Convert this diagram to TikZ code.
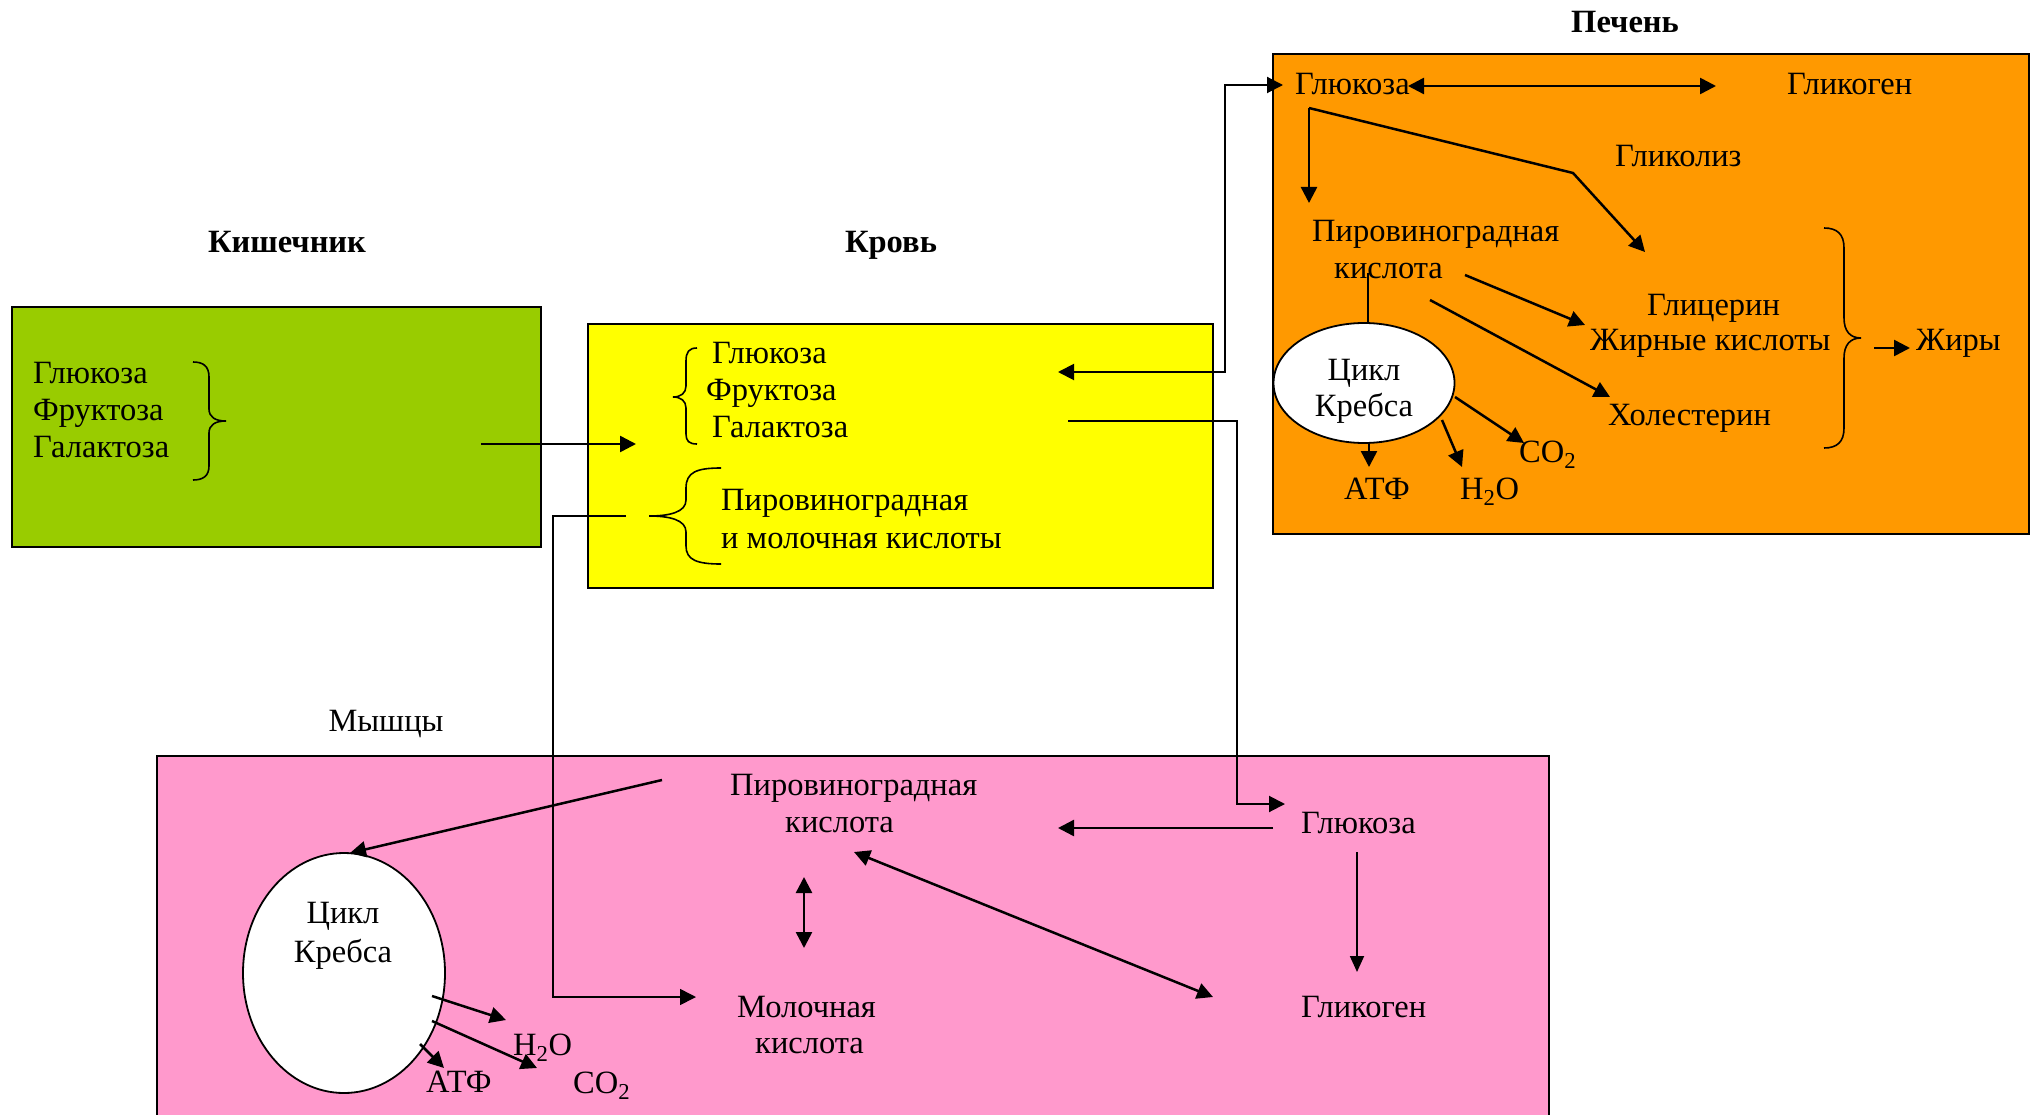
\documentclass[tikz,border=0pt]{standalone}
\usepackage{fontspec}
\setmainfont{Liberation Serif}
\usetikzlibrary{arrows.meta,shapes.geometric}

\definecolor{gutgreen}{HTML}{99CC00}
\definecolor{bloodyellow}{HTML}{FFFF00}
\definecolor{liverorange}{HTML}{FF9900}
\definecolor{musclepink}{HTML}{FF99CC}

\tikzset{
  organ/.style={draw=black, line width=1.8pt},
  lbl/.style={inner sep=0pt, anchor=base west, font=\fontsize{32.5}{37.5}\selectfont},
  lblc/.style={inner sep=0pt, anchor=base, font=\fontsize{32.5}{37.5}\selectfont},
  heading/.style={inner sep=0pt, anchor=base, font=\fontsize{32.5}{37.5}\selectfont\bfseries},
  krebs/.style={draw=black, fill=white, ellipse, line width=1.8pt, inner sep=0pt},
  flow/.style={line width=2.5pt, -{Triangle[length=16pt,width=16pt]}},
  twoway/.style={line width=2.5pt, {Triangle[length=16pt,width=16pt]}-{Triangle[length=16pt,width=16pt]}},
  link/.style={line width=1.6pt},
  linkarrow/.style={line width=1.6pt, -{Triangle[length=16pt,width=16pt]}},
  bracepath/.style={line width=1.6pt},
}

\begin{document}
\begin{tikzpicture}[x=1pt, y=-1pt]
\useasboundingbox (0,0) rectangle (2033,1115);
\begin{scope}
\clip (0,0) rectangle (2033,1115);

% ---------- organ boxes ----------
\filldraw[organ, fill=gutgreen]    (12,307)  rectangle (541,547);
\filldraw[organ, fill=bloodyellow] (588,324) rectangle (1213,588);
\filldraw[organ, fill=liverorange] (1273,54) rectangle (2029,534);
\filldraw[organ, fill=musclepink]  (157,756) rectangle (1549,1130);

% ---------- headings ----------
\node[heading] (hGut)   at (287,253) {Кишечник};
\node[heading] (hBlood) at (891,253) {Кровь};
\node[heading] (hLiver) at (1625,33) {Печень};
\node[lblc]    (hMuscle) at (386,731) {Мышцы};

% ---------- intestine ----------
\node[lbl] (gGlu) at (33,383) {Глюкоза};
\node[lbl] (gFru) at (33,420) {Фруктоза};
\node[lbl] (gGal) at (33,457) {Галактоза};
\draw[bracepath] (193,362) .. controls (203,362) and (209,366) .. (209,377)
  -- (209,409) .. controls (209,417) and (215,421) .. (226,421)
  .. controls (215,421) and (209,425) .. (209,433)
  -- (209,466) .. controls (209,476) and (203,480) .. (193,480);

% ---------- blood ----------
\node[lbl] (bGlu) at (712,363) {Глюкоза};
\node[lbl] (bFru) at (706,400) {Фруктоза};
\node[lbl] (bGal) at (712,437) {Галактоза};
\draw[bracepath] (697,348) .. controls (689,348) and (686,352) .. (686,361)
  -- (686,386) .. controls (686,393) and (681,397) .. (673,397)
  .. controls (681,397) and (686,401) .. (686,408)
  -- (686,434) .. controls (686,441) and (689,444) .. (697,444);
\node[lbl] (bPyr) at (721,510) {Пировиноградная};
\node[lbl] (bLac) at (721,548) {и молочная кислоты};
\draw[bracepath] (721,468) .. controls (697,468) and (686,472) .. (686,488)
  -- (686,500) .. controls (686,512) and (670,516) .. (649,516)
  .. controls (670,516) and (686,520) .. (686,532)
  -- (686,546) .. controls (686,560) and (697,564) .. (721,564);

% ---------- liver ----------
\node[lbl] (lGlu)  at (1295,95)  {Глюкоза};
\node[lbl] (lGlyc) at (1787,95)  {Гликоген};
\node[lbl] (lGlys) at (1615,167) {Гликолиз};
\node[lbl] (lPyr)  at (1312,242) {Пировиноградная};
\node[lbl] (lPyr2) at (1334,278) {кислота};
\node[krebs, minimum width=181pt, minimum height=120pt] (lKrebs) at (1364,383) {};
\node[lblc] (lKrebs1) at (1364,380) {Цикл};
\node[lblc] (lKrebs2) at (1364,416) {Кребса};
\node[lbl] (lGlcr) at (1647,315) {Глицерин};
\node[lbl] (lFat)  at (1590,350) {Жирные кислоты};
\node[lbl] (lChol) at (1608,425) {Холестерин};
\node[lbl] (lFats) at (1916,350) {Жиры};
\node[lbl] (lATP)  at (1344,499) {АТФ};
\node[lbl] (lH2O)  at (1460,499) {H\textsubscript{2}O};
\node[lbl] (lCO2)  at (1519,462) {CO\textsubscript{2}};
\draw[bracepath] (1824,228) .. controls (1837,228) and (1844,234) .. (1844,248)
  -- (1844,318) .. controls (1844,331) and (1850,338) .. (1861,338)
  .. controls (1850,338) and (1844,345) .. (1844,358)
  -- (1844,428) .. controls (1844,442) and (1837,448) .. (1824,448);

% ---------- muscle ----------
\node[lbl] (mPyr)  at (730,795)  {Пировиноградная};
\node[lbl] (mPyr2) at (785,832)  {кислота};
\node[lbl] (mGlu)  at (1301,833) {Глюкоза};
\node[lbl] (mGlyc) at (1301,1017) {Гликоген};
\node[lbl] (mLac)  at (737,1017) {Молочная};
\node[lbl] (mLac2) at (755,1053) {кислота};
\node[krebs, minimum width=202pt, minimum height=240pt] (mKrebs) at (344,973) {};
\node[lblc] (mKrebs1) at (343,923) {Цикл};
\node[lblc] (mKrebs2) at (343,962) {Кребса};
\node[lbl] (mH2O) at (513,1055) {H\textsubscript{2}O};
\node[lbl] (mATP) at (426,1092) {АТФ};
\node[lbl] (mCO2) at (573,1093) {CO\textsubscript{2}};

% ---------- connector end points ----------
\coordinate (gOut)    at (481,444);
\coordinate (bIn)     at (636,444);
\coordinate (bBack)   at (1058,372);
\coordinate (bBend1)  at (1225,372);
\coordinate (bBend2)  at (1225,85);
\coordinate (lIn)     at (1283,85);
\coordinate (bOut)    at (1068,421);
\coordinate (bBend3)  at (1237,421);
\coordinate (bBend4)  at (1237,804);
\coordinate (mIn)     at (1285,804);
\coordinate (bAcid)   at (626,516);
\coordinate (bBend5)  at (553,516);
\coordinate (bBend6)  at (553,997);
\coordinate (mLacIn)  at (696,997);

\coordinate (lGluL)   at (1408,86);
\coordinate (lGlycL)  at (1716,86);
\coordinate (lFork)   at (1309,108);
\coordinate (lPyrIn)  at (1309,203);
\coordinate (lKnee)   at (1573,173);
\coordinate (lGlsIn)  at (1645,252);
\coordinate (lPyrTop) at (1368,273);
\coordinate (lA1s)    at (1465,275);
\coordinate (lA1e)    at (1585,325);
\coordinate (lA2s)    at (1430,300);
\coordinate (lA2e)    at (1610,397);
\coordinate (lFs)     at (1874,348);
\coordinate (lFe)     at (1910,348);
\coordinate (lATPs)   at (1369,443);
\coordinate (lATPe)   at (1369,467);
\coordinate (lH2Os)   at (1442,420);
\coordinate (lH2Oe)   at (1462,467);
\coordinate (lCO2s)   at (1455,397);
\coordinate (lCO2e)   at (1524,443);

\coordinate (mPyrS)   at (662,780);
\coordinate (mKrebsT) at (350,853);
\coordinate (mGluS)   at (1273,828);
\coordinate (mGluE)   at (1058,828);
\coordinate (mGlyS)   at (1357,852);
\coordinate (mGlyE)   at (1357,972);
\coordinate (mDiagA)  at (854,852);
\coordinate (mDiagB)  at (1213,997);
\coordinate (mVertA)  at (804,877);
\coordinate (mVertB)  at (804,948);
\coordinate (mH2Os)   at (432,996);
\coordinate (mH2Oe)   at (506,1020);
\coordinate (mCO2s)   at (432,1021);
\coordinate (mCO2e)   at (537,1068);
\coordinate (mATPs)   at (420,1044);
\coordinate (mATPe)   at (444,1068);

% ---------- connectors between organs ----------
\draw[flow] (gOut) -- (bIn);
\draw[line width=2pt, {Triangle[length=16pt,width=16pt]}-{Triangle[length=16pt,width=16pt]}]
  (bBack) -- (bBend1) -- (bBend2) -- (lIn);
\draw[line width=2pt, -{Triangle[length=16pt,width=16pt]}]
  (bOut) -- (bBend3) -- (bBend4) -- (mIn);
\draw[linkarrow] (bAcid) -- (bBend5) -- (bBend6) -- (mLacIn);

% ---------- liver connectors ----------
\draw[twoway] (lGluL) -- (lGlycL);
\draw[flow] (lFork) -- (lPyrIn);
\draw[flow] (lFork) -- (lKnee) -- (lGlsIn);
\draw[link] (lPyrTop) -- (lPyrTop |- lKrebs.north);
\draw[flow] (lA1s) -- (lA1e);
\draw[flow] (lA2s) -- (lA2e);
\draw[flow] (lFs) -- (lFe);
\draw[flow] (lATPs) -- (lATPe);
\draw[flow] (lH2Os) -- (lH2Oe);
\draw[flow] (lCO2s) -- (lCO2e);

% ---------- muscle connectors ----------
\draw[flow] (mPyrS) -- (mKrebsT);
\draw[flow] (mGluS) -- (mGluE);
\draw[line width=1.8pt, -{Triangle[length=16pt,width=14pt]}] (mGlyS) -- (mGlyE);
\draw[twoway] (mDiagA) -- (mDiagB);
\draw[twoway] (mVertA) -- (mVertB);
\draw[flow] (mH2Os) -- (mH2Oe);
\draw[flow] (mCO2s) -- (mCO2e);
\draw[flow] (mATPs) -- (mATPe);
\end{scope}
\end{tikzpicture}
\end{document}
